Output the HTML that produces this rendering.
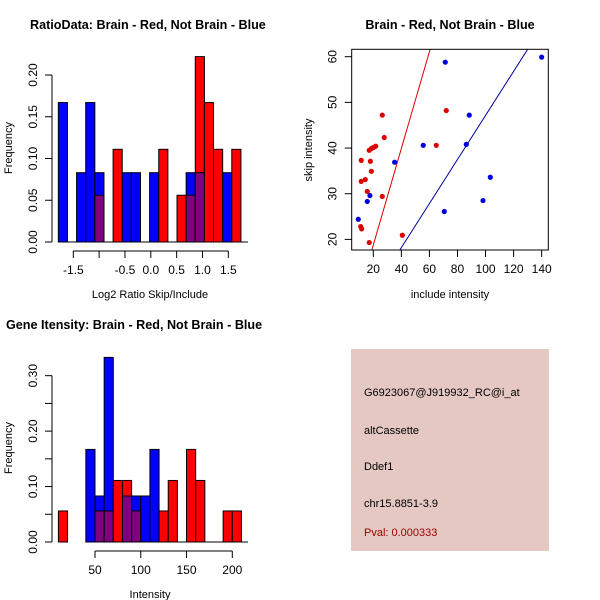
<!DOCTYPE html>
<html><head><meta charset="utf-8">
<style>
html,body{margin:0;padding:0;background:#fff;width:600px;height:600px;overflow:hidden}
svg{display:block;font-family:"Liberation Sans",sans-serif}
</style></head>
<body>
<svg id="c" width="600" height="600" viewBox="0 0 600 600"></svg>
<script>
// ---- data: ratio histogram (bins start -1.79, width 0.1767) ----
const ratioBinStart = -1.79;
const ratioBinWidth = 0.1767;
const ratioBlue = [0.167,0,0.083,0.167,0.083,0,0,0.083,0.083,0,0.083,0,0,0,0.083,0.083,0,0,0.083,0];
const ratioRed  = [0,0,0,0,0.056,0,0.111,0,0,0,0,0.111,0,0.056,0.056,0.222,0.167,0.111,0,0.111];
const ratioXTicks = [-1.5,-1,-0.5,0,0.5,1,1.5];
const ratioXLabels = ["-1.5","","-0.5","0.0","0.5","1.0","1.5"];
const ratioYTicks = [0,0.05,0.1,0.15,0.2];
const ratioYLabels = ["0.00","0.05","0.10","0.15","0.20"];
// ---- data: gene intensity histogram ----
const intBinStart = 10;
const intBinWidth = 10;
const intBlue = [0,0,0,0.167,0.083,0.333,0,0.083,0.083,0.083,0.167,0,0,0,0,0,0,0,0,0];
const intRed  = [0.056,0,0,0,0.056,0.056,0.111,0.111,0.056,0,0,0.056,0.111,0,0.167,0.111,0,0,0.056,0.056];
const intXTicks = [50,100,150,200];
const intYTicks = [0,0.05,0.1,0.15,0.2,0.25,0.3];
const intYLabels = ["0.00","","0.10","","0.20","","0.30"];
// ---- data: scatter ----
const blueX = [9.3,15.7,17.6,35.2,55.6,71.3,70.6,88.4,86.3,103.4,98.2,140];
const blueY = [24.4,28.3,29.6,36.9,40.6,58.8,26.1,47.2,40.8,33.6,28.5,59.9];
const redX = [11,11.7,17.1,11.4,11.4,14.3,15.7,17.9,18.6,17.1,18.6,20,21.7,26.4,27.8,26.4,40.7,64.9,72];
const redY = [22.8,22.3,19.3,37.3,32.7,33.1,30.5,37.1,34.9,39.5,39.9,40.1,40.4,47.2,42.3,29.4,20.9,40.6,48.2];
const redFit = [-2.4,1.058];   // intercept, slope
const blueFit = [-1.1,0.4824];
const scXTicks = [20,40,60,80,100,120,140];
const scYTicks = [20,30,40,50,60];

const svg = document.getElementById('c');
const NS = 'http://www.w3.org/2000/svg';
function mk(tag, attrs, name, parent){
  const e = document.createElementNS(NS, tag);
  for (const k in attrs) e.setAttribute(k, attrs[k]);
  
  
  (parent||svg).appendChild(e);
  return e;
}
function txt(x,y,s,name,opt){
  opt = opt||{};
  const t = mk('text',{x:x,y:y,'font-size':opt.size||12,'text-anchor':opt.anchor||'middle',fill:opt.fill||'#000','font-weight':opt.bold?'bold':'normal'},name);
  if(opt.rot) t.setAttribute('transform','rotate(-90 '+x+' '+y+')');
  t.textContent = s;
  return t;
}

function histogram(cfg){
  const sx = v => cfg.x0 + (v - cfg.xv0)*cfg.kx;
  const sy = v => cfg.base - v*cfg.ky;
  const g = mk('g',{},cfg.name);
  for (let i=0;i<cfg.blue.length;i++){
    const a = cfg.start + i*cfg.width, b = a + cfg.width;
    const x1 = sx(a), x2 = sx(b);
    const bv = cfg.blue[i], rv = cfg.red[i];
    const draw = (v,fill,nm)=>{ if(v<=0) return;
      mk('rect',{x:x1,y:sy(v),width:x2-x1,height:sy(0)-sy(v),fill:fill,stroke:'#000','stroke-width':1},nm,g);
    };
    if (bv>=rv){ draw(bv,'#0000ff','bar-blue-'+i); draw(rv,'#800080','bar-overlap-'+i); }
    else { draw(rv,'#ff0000','bar-red-'+i); draw(bv,'#800080','bar-overlap-'+i); }
  }
  mk('line',{x1:cfg.x0-7,x2:cfg.x1,y1:sy(0),y2:sy(0),stroke:'#000'},'baseline',g);
  const yt = cfg.yTicks;
  mk('line',{x1:cfg.yAxisX,x2:cfg.yAxisX,y1:sy(yt[0]),y2:sy(yt[yt.length-1]),stroke:'#000'},'y-axis',g);
  yt.forEach((v,i)=>{
    mk('line',{x1:cfg.yAxisX-7,x2:cfg.yAxisX,y1:sy(v),y2:sy(v),stroke:'#000'},'y-tick',g);
    if(cfg.yLabels[i]) txt(cfg.yAxisX-15,sy(v),cfg.yLabels[i],'y-tick-label',{rot:true});
  });
  const xt = cfg.xTicks;
  const ay = sy(0)+9;
  mk('line',{x1:sx(xt[0]),x2:sx(xt[xt.length-1]),y1:ay,y2:ay,stroke:'#000'},'x-axis',g);
  xt.forEach((v,i)=>{
    mk('line',{x1:sx(v),x2:sx(v),y1:ay,y2:ay+7,stroke:'#000'},'x-tick',g);
    if(cfg.xLabels[i]) txt(sx(v),ay+23,cfg.xLabels[i],'x-tick-label');
  });
}

histogram({name:'ratio-histogram', blue:ratioBlue, red:ratioRed, start:ratioBinStart, width:ratioBinWidth,
  xv0:-1.5, x0:73.3, kx:51.67, base:242, ky:835, x1:248, yAxisX:52,
  xTicks:ratioXTicks, xLabels:ratioXLabels, yTicks:ratioYTicks, yLabels:ratioYLabels});
txt(30,29,'RatioData: Brain - Red, Not Brain - Blue','chart-title-ratio',{anchor:'start',bold:true,size:12.6});
txt(150,298,'Log2 Ratio Skip/Include','x-axis-title-ratio',{size:11});
txt(12,148,'Frequency','y-axis-title-ratio',{rot:true,size:11});

histogram({name:'intensity-histogram', blue:intBlue, red:intRed, start:intBinStart, width:intBinWidth,
  xv0:50, x0:95, kx:0.9153, base:542, ky:554.4, x1:248, yAxisX:52,
  xTicks:intXTicks, xLabels:intXTicks.map(String), yTicks:intYTicks, yLabels:intYLabels});
txt(6,329,'Gene Itensity: Brain - Red, Not Brain - Blue','chart-title-intensity',{anchor:'start',bold:true,size:12.6});
txt(150,598,'Intensity','x-axis-title-intensity',{size:11});
txt(12,448,'Frequency','y-axis-title-intensity',{rot:true,size:11});

(function(){
  const L=351.7,R=548.3,T=49.3,B=250;
  const sx = v => 373.3 + (v-20)*1.403;
  const sy = v => 56.7 + (60-v)*4.567;
  const g = mk('g',{},'scatter-plot');
  const cp = mk('clipPath',{id:'clip'},'clip',g);
  mk('rect',{x:L,y:T,width:R-L,height:B-T},'clip-rect',cp);
  const line=(f,col,nm)=>{
    const xa=0,xb=160;
    mk('line',{x1:sx(xa),y1:sy(f[0]+f[1]*xa),x2:sx(xb),y2:sy(f[0]+f[1]*xb),stroke:col,'stroke-width':1,'clip-path':'url(#clip)'},nm,g);
  };
  line(redFit,'#dd0000','fit-line-red');
  line(blueFit,'#000099','fit-line-blue');
  blueX.forEach((v,i)=>mk('circle',{cx:sx(v),cy:sy(blueY[i]),r:2.6,fill:'#0000dd'},'point-blue',g));
  redX.forEach((v,i)=>mk('circle',{cx:sx(v),cy:sy(redY[i]),r:2.6,fill:'#dd0000'},'point-red',g));
  mk('rect',{x:L,y:T,width:R-L,height:B-T,fill:'none',stroke:'#000'},'plot-box',g);
  scXTicks.forEach(v=>{
    mk('line',{x1:sx(v),x2:sx(v),y1:B,y2:B+7,stroke:'#000'},'x-tick',g);
    txt(sx(v),B+23,String(v),'x-tick-label');
  });
  scYTicks.forEach(v=>{
    mk('line',{x1:L-7,x2:L,y1:sy(v),y2:sy(v),stroke:'#000'},'y-tick',g);
    txt(L-15,sy(v),String(v),'y-tick-label',{rot:true});
  });
})();
txt(450,29,'Brain - Red, Not Brain - Blue','chart-title-scatter',{bold:true,size:12.6});
txt(450,298,'include intensity','x-axis-title-scatter',{size:11});
txt(312,150,'skip intensity','y-axis-title-scatter',{rot:true,size:11});

mk('rect',{x:351,y:349,width:198,height:202,fill:'#e6c8c2'},'info-panel');
txt(364,396,'G6923067@J919932_RC@i_at','info-probe-id',{anchor:'start',size:11});
txt(364,434,'altCassette','info-event-type',{anchor:'start',size:11});
txt(364,470,'Ddef1','info-gene',{anchor:'start',size:11});
txt(364,507,'chr15.8851-3.9','info-location',{anchor:'start',size:11});
txt(364,536,'Pval: 0.000333','info-pval',{anchor:'start',size:11,fill:'#990000'});
</script>
</body></html>
